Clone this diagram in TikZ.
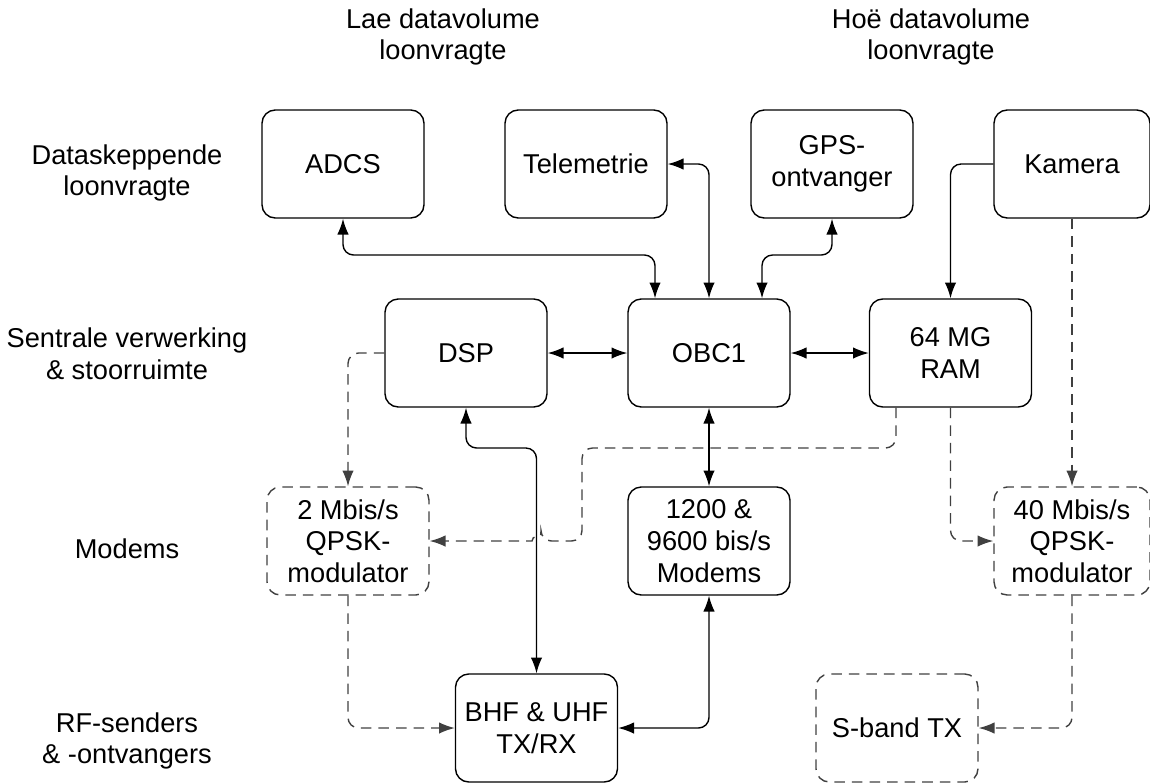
\documentclass[tikz,border=0pt]{standalone}
\usepackage{fontspec}
\setmainfont{Liberation Sans}
\usetikzlibrary{arrows.meta,positioning}

\begin{document}
\begin{tikzpicture}[
  x=0.02cm, y=-0.02cm,
  font=\fontsize{15.5}{18}\selectfont,
  box/.style={draw,line width=0.8pt,rounded corners=7.5pt,minimum width=3.24cm,minimum height=2.16cm,inner sep=0pt,align=center},
  widebox/.style={box,minimum width=3.12cm},
  optbox/.style={draw=black!75,dash pattern=on 6pt off 4pt},
  rowlabel/.style={align=center},
  link/.style={line width=0.8pt,rounded corners=6pt,-{Latex[length=9pt,width=6.5pt]}},
  both/.style={link,{Latex[length=9pt,width=6.5pt]}-{Latex[length=9pt,width=6.5pt]}},
  dlink/.style={link,black!75,dash pattern=on 6pt off 4pt}
]
\useasboundingbox (0,0) rectangle (1150,782);

% kolomme en rye
\node[rowlabel] (lowcol) at (443,37) {Lae datavolume\\loonvragte};
\node[rowlabel] (highcol) at (931,37) {Hoë datavolume\\loonvragte};
\node[rowlabel] (rowsrc) at (127,173) {Dataskeppende\\loonvragte};
\node[rowlabel] (rowcpu) at (127,354) {Sentrale verwerking\\\& stoorruimte};
\node[rowlabel] (rowmod) at (127,549) {Modems};
\node[rowlabel] (rowrf) at (127,741) {RF-senders\\\& -ontvangers};

% blokke
\node[box] (adcs) at (343,164) {ADCS};
\node[box] (tele) at (586,164) {Telemetrie};
\node[box] (gps) at (832,164) {GPS-\\ontvanger};
\node[widebox] (cam) at (1072,164) {Kamera};
\node[box] (dsp) at (466,353) {DSP};
\node[box] (obc) at (709,353) {OBC1};
\node[box] (ram) at (950.5,353) {64 MG\\RAM};
\node[box,optbox] (qpsklo) at (348,541) {2 Mbis/s\\QPSK-\\modulator};
\node[box] (modems) at (709,541) {1200 \&\\9600 bis/s\\Modems};
\node[widebox,optbox] (qpskhi) at (1072,541) {40 Mbis/s\\QPSK-\\modulator};
\node[box] (vhf) at (536.5,728) {BHF \& UHF\\TX/RX};
\node[box,optbox] (sband) at (897,728) {S-band TX};

% verbindings
\draw[both] (adcs.south) |- (655,255) -- (obc.north -| 655,0);
\draw[both] (tele.east) -| (obc.north);
\draw[both] (gps.south) |- (762,255) -- (obc.north -| 762,0);
\draw[link] (cam.west) -| (ram.north);
\draw[both] (dsp.east) -- (obc.west);
\draw[both] (obc.east) -- (ram.west);
\draw[both] (obc.south) -- (modems.north);
\draw[both] (dsp.south) |- (vhf.north |- 0,448) -- (vhf.north);
\draw[both] (modems.south) |- (vhf.east);
\draw[dlink] (dsp.west) -| (qpsklo.north);
\draw[dlink] (ram.south -| 896,0) |- (582,448) |- (541,541) [sharp corners]
  arc[start angle=0,end angle=-180,radius=4.5] -- (qpsklo.east);
\draw[dlink] (qpsklo.south) |- (vhf.west);
\draw[dlink] (ram.south) |- (qpskhi.west);
\draw[dlink] (cam.south) -- (qpskhi.north);
\draw[dlink] (qpskhi.south) |- (sband.east);
\end{tikzpicture}
\end{document}
